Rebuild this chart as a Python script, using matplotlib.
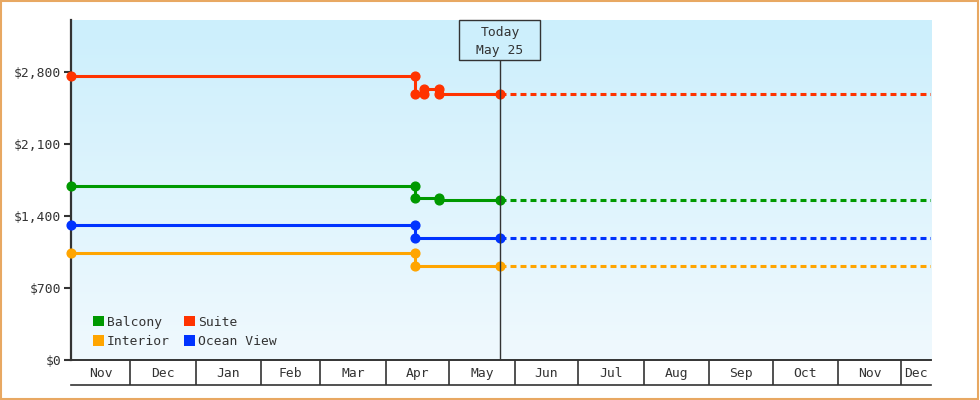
import datetime as dt
import matplotlib
matplotlib.use('Agg')
import matplotlib.pyplot as plt
from matplotlib.patches import Patch, Rectangle
from matplotlib.ticker import FuncFormatter
import numpy as np
import pandas as pd

# Dados
start = dt.date(2024, 11, 3)
end = dt.date(2025, 12, 15)
today = dt.date(2025, 5, 25)

suite_dates = [dt.date(2024, 11, 3), dt.date(2025, 4, 15), dt.date(2025, 4, 15),
               dt.date(2025, 4, 19), dt.date(2025, 4, 19), dt.date(2025, 4, 26),
               dt.date(2025, 4, 26), dt.date(2025, 5, 25)]
suite_prices = [2760, 2760, 2583, 2583, 2635, 2635, 2583, 2583]

balcony_dates = [dt.date(2024, 11, 3), dt.date(2025, 4, 15), dt.date(2025, 4, 15),
                 dt.date(2025, 4, 26), dt.date(2025, 4, 26), dt.date(2025, 5, 25)]
balcony_prices = [1692, 1692, 1572, 1572, 1553, 1553]

ocean_dates = [dt.date(2024, 11, 3), dt.date(2025, 4, 15), dt.date(2025, 4, 15), dt.date(2025, 5, 25)]
ocean_prices = [1312, 1312, 1183, 1183]

interior_dates = [dt.date(2024, 11, 3), dt.date(2025, 4, 15), dt.date(2025, 4, 15), dt.date(2025, 5, 25)]
interior_prices = [1040, 1040, 911, 911]

month_labels = ['Nov', 'Dec', 'Jan', 'Feb', 'Mar', 'Apr', 'May', 'Jun',
                'Jul', 'Aug', 'Sep', 'Oct', 'Nov', 'Dec']
y_ticks = [0, 700, 1400, 2100, 2800]

series = [
    ('Balcony', balcony_dates, balcony_prices, '#009900'),
    ('Interior', interior_dates, interior_prices, '#FFA500'),
    ('Suite', suite_dates, suite_prices, '#FF3300'),
    ('Ocean View', ocean_dates, ocean_prices, '#0033FF'),
]

plt.rcParams['font.family'] = ['DejaVu Sans Mono']
plt.rcParams['lines.scale_dashes'] = False
txt_color = '#333333'
fs = 9.4

fig = plt.figure(figsize=(9.8, 4.0), dpi=100)
ax = fig.add_axes([71 / 980, 40 / 400, 860 / 980, 340 / 400])

# Fundo em degradê
grad = np.linspace(0, 1, 256).reshape(-1, 1)
cmap = matplotlib.colors.LinearSegmentedColormap.from_list('bg', ['#CCEFFC', '#F0F9FE'])
ax.imshow(grad, extent=[0, 1, 0, 1], transform=ax.transAxes, aspect='auto',
          cmap=cmap, zorder=0)

for nome, datas, precos, cor in series:
    ax.plot(datas, precos, color=cor, lw=2.2, marker='o', ms=6.3, zorder=3, clip_on=False)
    # Projeção futura tracejada
    ax.plot([today, end], [precos[-1], precos[-1]], color=cor, lw=2.2,
            dashes=(4.3, 2.9), zorder=2)

ax.set_xlim(start, end)
ax.set_ylim(0, 3305)
ax.set_yticks(y_ticks)
ax.yaxis.set_major_formatter(FuncFormatter(lambda v, p: '${:,.0f}'.format(v)))
ax.tick_params(axis='y', length=5, width=1.5, color=txt_color, labelcolor=txt_color,
               labelsize=fs, pad=2)
ax.set_xticks([])
for s in ['top', 'right']:
    ax.spines[s].set_visible(False)
for s in ['left', 'bottom']:
    ax.spines[s].set_color(txt_color)
ax.spines['left'].set_linewidth(1.6)
ax.spines['bottom'].set_linewidth(1.2)

# Linha e caixa "Today"
ax.axvline(today, ymin=0, ymax=(360 - 60) / 340, color=txt_color, lw=1, zorder=4)
fx = (pd.Timestamp(today) - pd.Timestamp(start)) / (pd.Timestamp(end) - pd.Timestamp(start))
bw, bh = 81 / 860, 40 / 340
ax.add_patch(Rectangle((fx - bw / 2, 1 - bh), bw, bh, transform=ax.transAxes,
                       fc='#CDEFFC', ec=txt_color, lw=1, zorder=5, clip_on=False))
ax.text(fx, 1 - bh / 2 - 0.004, 'Today\nMay 25', transform=ax.transAxes, ha='center',
        va='center', fontsize=fs, color=txt_color, linespacing=1.5, zorder=6)

# Legenda
handles = [Patch(facecolor=c, edgecolor='none', label=n) for n, _, _, c in series]
ax.legend(handles=handles, ncol=2, loc='lower left', bbox_to_anchor=(0.025, 0.035),
          frameon=False, borderpad=0, borderaxespad=0, handlelength=0.85,
          handleheight=0.85, handletextpad=0.25, columnspacing=1.05, labelspacing=0.5,
          prop={'size': fs}, labelcolor=txt_color)

# Faixa de meses abaixo do eixo
ax2 = fig.add_axes([71 / 980, 15 / 400, 860 / 980, 25 / 400], sharex=ax)
ax2.set_ylim(0, 1)
ax2.set_xlim(start, end)
ax2.set_xticks([])
ax2.set_yticks([])
ax2.patch.set_alpha(0)
for s in ['left', 'right']:
    ax2.spines[s].set_visible(False)
for s in ['top', 'bottom']:
    ax2.spines[s].set_color(txt_color)
    ax2.spines[s].set_linewidth(1.2)

bordas = pd.date_range('2024-12-01', '2025-12-01', freq='MS')
limites = [pd.Timestamp(start)] + list(bordas) + [pd.Timestamp(end)]
for b in bordas:
    ax2.axvline(b, color=txt_color, lw=1.2)
for i, lab in enumerate(month_labels):
    a, b = limites[i], limites[i + 1]
    meio = a + (b - a) / 2
    ax2.text(meio, 0.45, lab, ha='center', va='center', fontsize=fs, color=txt_color)

# Moldura laranja da imagem
fig.patches.append(Rectangle((0.001, 0.002), 0.997, 0.995, transform=fig.transFigure,
                             fill=False, ec='#E8A862', lw=1.5))

fig.savefig('out.png', dpi=100)
